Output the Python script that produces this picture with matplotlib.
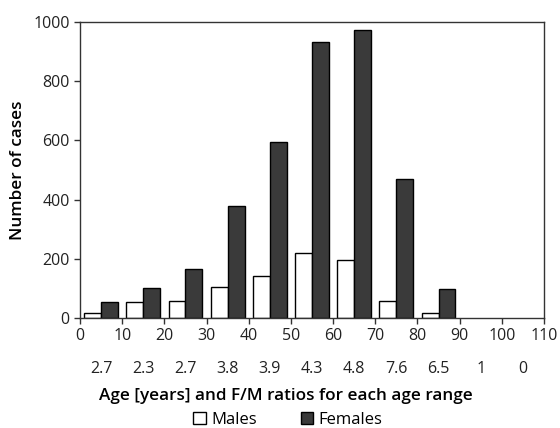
import numpy as np
import matplotlib.pyplot as plt
from matplotlib.patches import Patch
from matplotlib.transforms import blended_transform_factory

plt.rcParams['font.family'] = ['Open Sans', 'DejaVu Sans']

age_start = [0, 10, 20, 30, 40, 50, 60, 70, 80]
males = [17, 53, 56, 105, 141, 221, 197, 56, 18]
females = [54, 103, 165, 380, 596, 931, 972, 471, 98]
ratios = ["2.7", "2.3", "2.7", "3.8", "3.9", "4.3", "4.8", "7.6", "6.5", "1", "0"]

fig = plt.figure(figsize=(5.6, 4.28), dpi=100)
ax = fig.add_axes([80 / 560, 1 - 318 / 428, 464 / 560, 296 / 428])

x = np.array(age_start)
ax.bar(x + 1, males, width=4, align='edge', color='white', edgecolor='black', linewidth=1)
ax.bar(x + 5, females, width=4, align='edge', color='#3a3a3a', edgecolor='black', linewidth=1)

ax.set_xlim(0, 110)
ax.set_ylim(0, 1000)
ax.set_xticks(range(0, 111, 10))
ax.set_yticks(range(0, 1001, 200))
ax.tick_params(labelsize=11.5, length=4, width=1, color='#333333', labelcolor='#222222')
for s in ax.spines.values():
    s.set_linewidth(1)
    s.set_color('#333333')

trans = blended_transform_factory(ax.transData, ax.transAxes)
for i, r in enumerate(ratios):
    ax.text(5 + 10 * i, -0.172, r, transform=trans, ha='center', va='center',
            fontsize=11.5, color='#222222')

ax.set_ylabel("Number of cases", fontsize=12.3, fontweight='semibold', labelpad=5)
ax.set_xlabel("Age [years] and F/M ratios for each age range", fontsize=12.3,
              fontweight='semibold')
ax.xaxis.set_label_coords((286 - 80) / 464, -0.235)

handles = [Patch(facecolor='white', edgecolor='black', label='Males'),
           Patch(facecolor='#3a3a3a', edgecolor='black', label='Females')]
fig.legend(handles=handles, loc='center', bbox_to_anchor=(288 / 560, 1 - 420 / 428),
           ncol=2, frameon=False, fontsize=12, handlelength=0.75, handleheight=0.75,
           handletextpad=0.35, columnspacing=2.6, borderaxespad=0, borderpad=0)

fig.savefig("out.png", dpi=100)
